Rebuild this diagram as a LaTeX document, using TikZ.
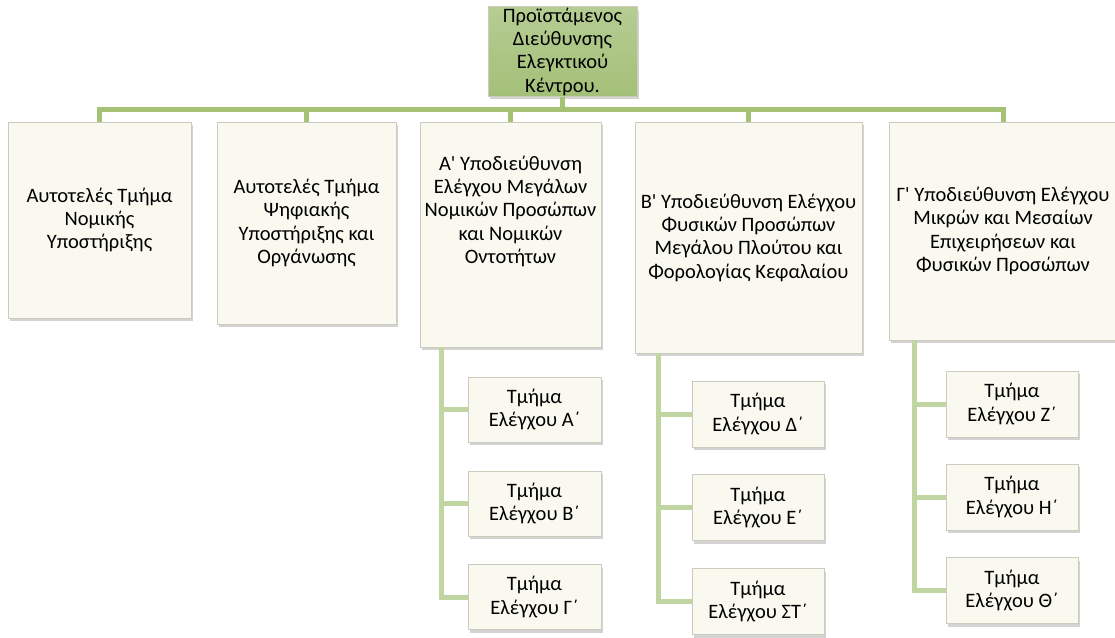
\documentclass[tikz,border=0pt]{standalone}
\usepackage{fontspec}
\setmainfont{Carlito}[Ligatures=TeXOff]
\usetikzlibrary{shadows}
\definecolor{headgreen}{RGB}{163,192,120}
\definecolor{busgreen}{RGB}{165,193,115}
\definecolor{subgreen}{RGB}{192,213,162}
\definecolor{boxcream}{RGB}{250,249,239}
\definecolor{boxedge}{RGB}{205,203,190}

\begin{document}
\begin{tikzpicture}[x=1pt,y=-1pt,
    every node/.style={font=\fontsize{20.5}{23.3}\selectfont,align=center,inner sep=1pt},
    headbox/.style={draw=boxedge,top color=headgreen!80!white,bottom color=headgreen,drop shadow={opacity=0.35,shadow xshift=2pt,shadow yshift=-3pt}},
    unitbox/.style={draw=boxedge,fill=boxcream,drop shadow={opacity=0.35,shadow xshift=2pt,shadow yshift=-3pt}},
    bus/.style={draw=busgreen,line width=5pt},
    sublink/.style={draw=subgreen,line width=5pt}]
        \useasboundingbox (0,0) rectangle (1115,637);
        \node[headbox,minimum width=149pt,minimum height=87pt] (dir) at (562.5,51.5) {Προϊστάμενος\\Διεύθυνσης\\Ελεγκτικού\\Κέντρου.};
        \node[unitbox,minimum width=183pt,minimum height=196pt] (n1) at (99.5,220) {Αυτοτελές Τμήμα\\Νομικής\\Υποστήριξης};
        \node[unitbox,minimum width=179pt,minimum height=202pt] (n2) at (306.5,223) {Αυτοτελές Τμήμα\\Ψηφιακής\\Υποστήριξης και\\Οργάνωσης};
        \node[unitbox,minimum width=181pt,minimum height=225pt,text depth=50pt] (n3) at (510.5,234.5) {Α' Υποδιεύθυνση\\Ελέγχου Μεγάλων\\Νομικών Προσώπων\\και Νομικών\\Οντοτήτων};
        \node[unitbox,minimum width=227pt,minimum height=231pt] (n4) at (748.5,237.5) {Β' Υποδιεύθυνση Ελέγχου\\Φυσικών Προσώπων\\Μεγάλου Πλούτου και\\Φορολογίας Κεφαλαίου};
        \node[unitbox,minimum width=228pt,minimum height=218pt] (n5) at (1003,231) {Γ' Υποδιεύθυνση Ελέγχου\\Μικρών και Μεσαίων\\Επιχειρήσεων και\\Φυσικών Προσώπων};
        \node[unitbox,minimum width=133pt,minimum height=65pt] (a1) at (534.5,409.5) {Τμήμα\\Ελέγχου Α΄};
        \node[unitbox,minimum width=133pt,minimum height=65pt] (a2) at (534.5,503.5) {Τμήμα\\Ελέγχου Β΄};
        \node[unitbox,minimum width=133pt,minimum height=65pt] (a3) at (534.5,597) {Τμήμα\\Ελέγχου Γ΄};
        \node[unitbox,minimum width=132pt,minimum height=66pt] (b1) at (758,414) {Τμήμα\\Ελέγχου Δ΄};
        \node[unitbox,minimum width=132pt,minimum height=66pt] (b2) at (758,507.5) {Τμήμα\\Ελέγχου Ε΄};
        \node[unitbox,minimum width=132pt,minimum height=66pt] (b3) at (758,601.5) {Τμήμα\\Ελέγχου ΣΤ΄};
        \node[unitbox,minimum width=132pt,minimum height=66pt] (c1) at (1012,404) {Τμήμα\\Ελέγχου Ζ΄};
        \node[unitbox,minimum width=132pt,minimum height=66pt] (c2) at (1012,497) {Τμήμα\\Ελέγχου Η΄};
        \node[unitbox,minimum width=132pt,minimum height=66pt] (c3) at (1012,590.5) {Τμήμα\\Ελέγχου Θ΄};
        \path[bus] (dir.south) -- ++(0,13) -| (n1.north);
        \path[bus] (dir.south) -- ++(0,13) -| (n2.north);
        \path[bus] (dir.south) -- ++(0,13) -| (n3.north);
        \path[bus] (dir.south) -- ++(0,13) -| (n4.north);
        \path[bus] (dir.south) -- ++(0,13) -| (n5.north);
        \foreach \c in {a1,a2,a3}
            \path[sublink] ([xshift=-69pt]n3.south) |- (\c.west);
        \foreach \c in {b1,b2,b3}
            \path[sublink] ([xshift=-90pt]n4.south) |- (\c.west);
        \foreach \c in {c1,c2,c3}
            \path[sublink] ([xshift=-89pt]n5.south) |- (\c.west);
      \end{tikzpicture}
\end{document}
